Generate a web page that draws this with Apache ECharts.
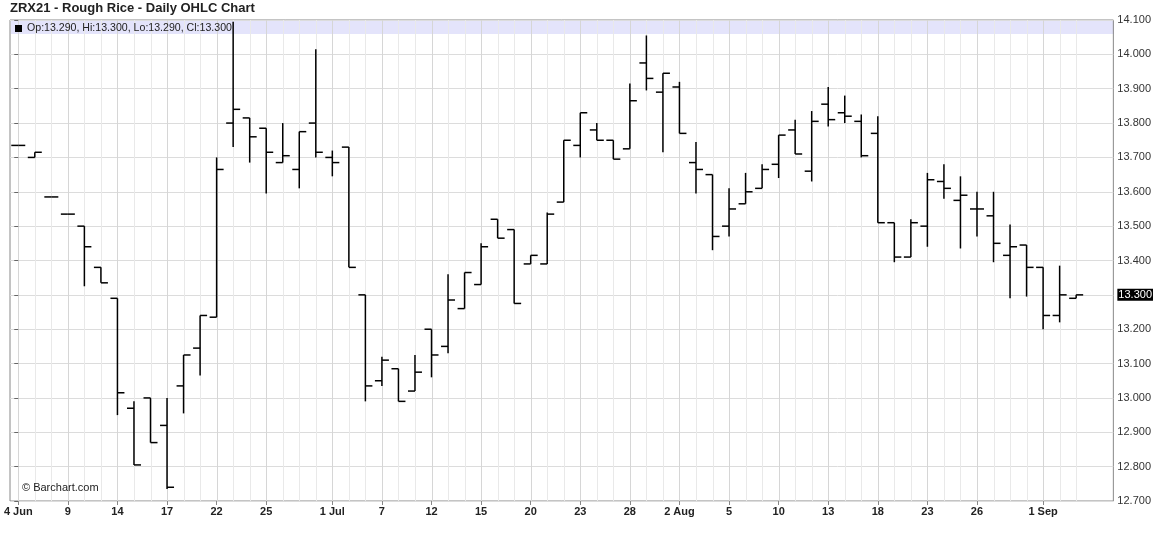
<!DOCTYPE html>
<html>
<head>
<meta charset="utf-8">
<title>ZRX21 - Rough Rice - Daily OHLC Chart</title>
<script src="https://cdn.jsdelivr.net/npm/echarts@6/dist/echarts.min.js"></script>
<style>
  html, body { margin: 0; padding: 0; background: #fff; }
  #main { width: 1156px; height: 542px; }
</style>
</head>
<body>
<div id="main"></div>
<script>
// trading days, 4 Jun - 3 Sep 2021
const dates = [
  '2021-06-04', '2021-06-07', '2021-06-08', '2021-06-09', '2021-06-10', '2021-06-11',
  '2021-06-14', '2021-06-15', '2021-06-16', '2021-06-17', '2021-06-18',
  '2021-06-21', '2021-06-22', '2021-06-23', '2021-06-24', '2021-06-25',
  '2021-06-28', '2021-06-29', '2021-06-30', '2021-07-01', '2021-07-02',
  '2021-07-06', '2021-07-07', '2021-07-08', '2021-07-09',
  '2021-07-12', '2021-07-13', '2021-07-14', '2021-07-15', '2021-07-16',
  '2021-07-19', '2021-07-20', '2021-07-21', '2021-07-22', '2021-07-23',
  '2021-07-26', '2021-07-27', '2021-07-28', '2021-07-29', '2021-07-30',
  '2021-08-02', '2021-08-03', '2021-08-04', '2021-08-05', '2021-08-06',
  '2021-08-09', '2021-08-10', '2021-08-11', '2021-08-12', '2021-08-13',
  '2021-08-16', '2021-08-17', '2021-08-18', '2021-08-19', '2021-08-20',
  '2021-08-23', '2021-08-24', '2021-08-25', '2021-08-26', '2021-08-27',
  '2021-08-30', '2021-08-31', '2021-09-01', '2021-09-02', '2021-09-03'
];

const open = [
  13.735, 13.700, 13.585, 13.535, 13.500, 13.380,
  13.290, 12.970, 13.000, 12.920, 13.035,
  13.145, 13.235, 13.800, 13.815, 13.785,
  13.685, 13.665, 13.800, 13.700, 13.730,
  13.300, 13.050, 13.085, 13.020,
  13.200, 13.150, 13.260, 13.330, 13.520,
  13.490, 13.390, 13.390, 13.570, 13.735,
  13.780, 13.750, 13.725, 13.975, 13.890,
  13.905, 13.685, 13.650, 13.500, 13.565,
  13.610, 13.680, 13.780, 13.660, 13.855,
  13.830, 13.805, 13.770, 13.510, 13.410,
  13.500, 13.630, 13.575, 13.550, 13.530,
  13.415, 13.445, 13.380, 13.240, 13.290
];
const high = [
  13.735, 13.715, 13.585, 13.535, 13.500, 13.380,
  13.290, 12.990, 13.000, 13.000, 13.125,
  13.240, 13.700, 14.095, 13.815, 13.785,
  13.800, 13.775, 14.015, 13.720, 13.730,
  13.300, 13.120, 13.085, 13.125,
  13.200, 13.360, 13.365, 13.450, 13.520,
  13.490, 13.415, 13.540, 13.750, 13.830,
  13.800, 13.750, 13.915, 14.055, 13.945,
  13.920, 13.745, 13.650, 13.610, 13.655,
  13.680, 13.765, 13.810, 13.835, 13.905,
  13.880, 13.825, 13.820, 13.510, 13.520,
  13.655, 13.680, 13.645, 13.600, 13.600,
  13.505, 13.445, 13.380, 13.385, 13.300
];
const low = [
  13.735, 13.700, 13.585, 13.535, 13.325, 13.335,
  12.950, 12.805, 12.870, 12.735, 12.955,
  13.065, 13.235, 13.730, 13.685, 13.595,
  13.685, 13.610, 13.700, 13.645, 13.380,
  12.990, 13.035, 12.990, 13.020,
  13.060, 13.130, 13.260, 13.330, 13.465,
  13.275, 13.390, 13.390, 13.570, 13.700,
  13.750, 13.695, 13.725, 13.895, 13.715,
  13.770, 13.595, 13.430, 13.470, 13.565,
  13.610, 13.640, 13.710, 13.630, 13.790,
  13.800, 13.700, 13.510, 13.395, 13.410,
  13.440, 13.580, 13.435, 13.470, 13.395,
  13.290, 13.295, 13.200, 13.220, 13.290
];
const close = [
  13.735, 13.715, 13.585, 13.535, 13.440, 13.335,
  13.015, 12.805, 12.870, 12.740, 13.125,
  13.240, 13.665, 13.840, 13.760, 13.715,
  13.705, 13.775, 13.715, 13.685, 13.380,
  13.035, 13.110, 12.990, 13.075,
  13.125, 13.285, 13.365, 13.440, 13.465,
  13.275, 13.415, 13.535, 13.750, 13.830,
  13.750, 13.695, 13.865, 13.930, 13.945,
  13.770, 13.665, 13.470, 13.550, 13.600,
  13.665, 13.765, 13.710, 13.805, 13.810,
  13.820, 13.705, 13.510, 13.410, 13.510,
  13.635, 13.610, 13.590, 13.550, 13.450,
  13.440, 13.380, 13.240, 13.300, 13.300
];

// date axis labels
const tickDates = [
  '2021-06-04', '2021-06-09', '2021-06-14', '2021-06-17', '2021-06-22', '2021-06-25',
  '2021-07-01', '2021-07-07', '2021-07-12', '2021-07-15', '2021-07-20', '2021-07-23',
  '2021-07-28', '2021-08-02', '2021-08-05', '2021-08-10', '2021-08-13', '2021-08-18',
  '2021-08-23', '2021-08-26', '2021-09-01'
];
const tickLabels = [
  '4 Jun', '9', '14', '17', '22', '25',
  '1 Jul', '7', '12', '15', '20', '23',
  '28', '2 Aug', '5', '10', '13', '18',
  '23', '26', '1 Sep'
];

const FONT = 'Liberation Sans, Arial, sans-serif';

let tickIdx = tickDates.map(d => dates.indexOf(d));
let ohlc = dates.map((d, i) => [i, open[i], high[i], low[i], close[i]]);
let gridDays = dates.map((d, i) => [i, tickIdx.indexOf(i) >= 0 ? 1 : 0]);
let last = dates.length - 1;
let lastClose = close[last];
let legendText = 'Op:' + open[last].toFixed(3) + ', Hi:' + high[last].toFixed(3) +
  ', Lo:' + low[last].toFixed(3) + ', Cl:' + close[last].toFixed(3);

let myChart = echarts.init(document.getElementById('main'));

let option = {
  animation: false,
  textStyle: { fontFamily: FONT },
  title: {
    text: 'ZRX21 - Rough Rice - Daily OHLC Chart',
    left: 10,
    top: 2,
    padding: 0,
    textStyle: { fontFamily: FONT, fontSize: 13, fontWeight: 'bold', color: '#222' }
  },
  grid: {
    left: 10,
    right: 42,
    top: 20,
    bottom: 41,
    show: true,
    borderColor: '#888',
    borderWidth: 1,
    backgroundColor: 'transparent'
  },
  graphic: [
    { type: 'rect', z: -10, shape: { x: 11, y: 21, width: 1103, height: 13 }, style: { fill: '#e4e4fb' } },
    { type: 'rect', z: 10, shape: { x: 15, y: 25, width: 7, height: 7 }, style: { fill: '#000' } },
    {
      type: 'text', z: 10, x: 27, y: 28,
      style: { text: legendText, fill: '#222', font: '10.6px ' + FONT, textVerticalAlign: 'middle' }
    },
    {
      type: 'text', z: 10, x: 22, y: 488,
      style: { text: '\u00a9 Barchart.com', fill: '#222', font: '11px ' + FONT, textVerticalAlign: 'middle' }
    }
  ],
  xAxis: {
    type: 'value',
    min: -0.5,
    max: 66.25,
    axisLine: { show: false },
    splitLine: { show: false },
    axisTick: {
      show: true,
      customValues: tickIdx,
      length: 4,
      lineStyle: { color: '#888' }
    },
    axisLabel: {
      customValues: tickIdx,
      margin: 5,
      fontSize: 11,
      fontWeight: 'bold',
      color: '#222',
      fontFamily: FONT,
      formatter: function (v) {
        let k = tickIdx.indexOf(Math.round(v));
        return k >= 0 ? tickLabels[k] : '';
      }
    }
  },
  yAxis: [{
    type: 'value',
    position: 'right',
    min: 12.7,
    max: 14.1,
    interval: 0.1,
    axisLine: { show: false },
    axisTick: { show: true, inside: true, length: 4, lineStyle: { color: '#666' } },
    splitLine: { show: true, lineStyle: { color: '#dcdcdc', width: 1 } },
    axisLabel: {
      margin: 4,
      fontSize: 11,
      color: '#333',
      fontFamily: FONT,
      showMinLabel: true,
      showMaxLabel: true,
      formatter: function (v) {
        if (Math.abs(v - lastClose) < 1e-6) return '';
        return v.toFixed(3);
      }
    }
  }, {
    type: 'value',
    position: 'right',
    min: 12.7,
    max: 14.1,
    axisLine: { show: false },
    axisTick: { show: false },
    splitLine: { show: false },
    axisLabel: {
      customValues: [lastClose],
      margin: 4,
      fontSize: 11,
      color: '#fff',
      backgroundColor: '#000',
      padding: [1, 1, 0, 1],
      fontFamily: FONT,
      formatter: function (v) { return v.toFixed(3); }
    }
  }],
  series: [{
    // vertical grid, one line per trading day, darker on labelled days
    type: 'custom',
    silent: true,
    z: 0,
    data: gridDays,
    renderItem: function (params, api) {
      let cs = params.coordSys;
      let x = Math.round(api.coord([api.value(0), 13])[0]) + 0.5;
      return {
        type: 'line',
        shape: { x1: x, y1: cs.y, x2: x, y2: cs.y + cs.height },
        style: { stroke: api.value(1) ? '#d6d6d6' : '#e9e9e9', lineWidth: 1 }
      };
    }
  }, {
    name: 'ZRX21',
    type: 'custom',
    z: 5,
    clip: true,
    data: ohlc,
    renderItem: function (params, api) {
      let i = api.value(0);
      let o = api.coord([i, api.value(1)]);
      let h = api.coord([i, api.value(2)]);
      let l = api.coord([i, api.value(3)]);
      let c = api.coord([i, api.value(4)]);
      let w = 7;
      let st = { stroke: '#000', lineWidth: 1.5 };
      return {
        type: 'group',
        children: [
          { type: 'line', shape: { x1: h[0], y1: h[1], x2: l[0], y2: l[1] }, style: st },
          { type: 'line', shape: { x1: o[0] - w, y1: o[1], x2: o[0], y2: o[1] }, style: st },
          { type: 'line', shape: { x1: c[0], y1: c[1], x2: c[0] + w, y2: c[1] }, style: st }
        ]
      };
    }
  }]
};

option && myChart.setOption(option);
</script>
</body>
</html>
